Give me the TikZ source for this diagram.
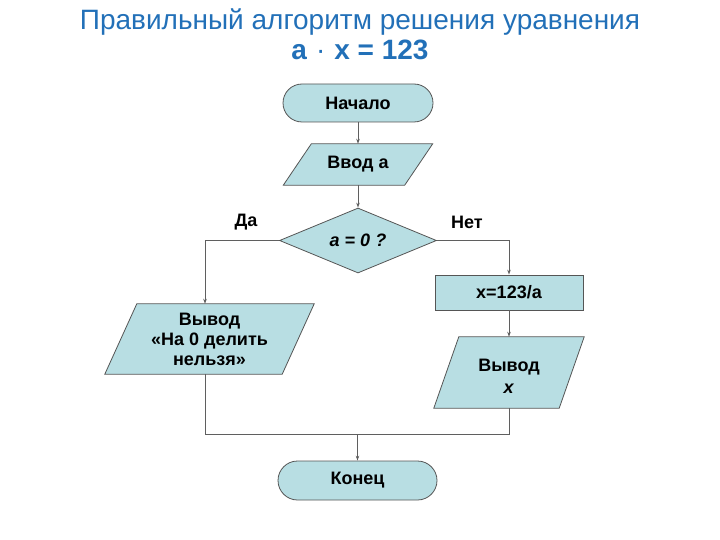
\documentclass[tikz,border=0pt]{standalone}
\usepackage{fontspec}
\setmainfont{Liberation Sans}
\usetikzlibrary{shapes.geometric,shapes.misc,arrows.meta,backgrounds}
\definecolor{titleblue}{RGB}{34,112,184}
\definecolor{boxfill}{RGB}{184,222,227}
\definecolor{boxline}{RGB}{85,85,85}
\definecolor{conline}{RGB}{95,95,95}
\tikzset{
  term/.style={rounded rectangle, draw=boxline, fill=boxfill, line width=0.8pt, inner sep=0pt, font=\bfseries\fontsize{18}{20}\selectfont},
  procbox/.style={rectangle, draw=boxline, fill=boxfill, line width=0.8pt, inner sep=0pt, font=\bfseries\fontsize{18}{20}\selectfont},
  decbox/.style={diamond, draw=boxline, fill=boxfill, line width=0.8pt, inner sep=0pt, aspect=2.4, font=\bfseries\itshape\fontsize{18}{20}\selectfont},
  iobox/.style={rectangle, draw=none, inner sep=0pt, align=center, font=\bfseries\fontsize{18}{20}\selectfont},
  iofill/.style={draw=boxline, fill=boxfill, line width=0.8pt, line join=miter},
  lbl/.style={font=\bfseries\fontsize{18}{20}\selectfont},
  conn/.style={draw=conline, line width=0.8pt},
  arr/.style={conn, -{Stealth[length=5pt,width=3.5pt]}},
}
\begin{document}
\begin{tikzpicture}[x=1pt,y=-1pt]
\useasboundingbox (0,0) rectangle (720,540);
% title
\node[anchor=base, text=titleblue, font=\fontsize{28}{30}\selectfont] (t1) at (360,30) {Правильный алгоритм решения уравнения};
\node[anchor=base, text=titleblue, font=\bfseries\fontsize{28}{30}\selectfont] (t2) at (360,60) {a\hspace{9pt}{\mdseries·}\hspace{9pt}x = 123};
% nodes
\node[term, minimum width=150pt, minimum height=38pt] (start) at (358,103) {Начало};
\node[iobox, minimum width=149pt, minimum height=41pt] (in) at (358,164.5) {Ввод а};
\node[decbox, minimum width=157pt, minimum height=65pt] (dec) at (358,240.5) {a = 0 ?};
\node[procbox, minimum width=148pt, minimum height=35pt] (calc) at (509,292.5) {x=123/a};
\node[iobox, minimum width=150pt, minimum height=71pt] (outx) at (509,372.5) {\rule{0pt}{19pt}Вывод\\[2pt]\textit{x}};
\node[iobox, minimum width=209pt, minimum height=70pt] (outerr) at (209.5,339) {Вывод\\«На 0 делить\\нельзя»};
\node[term, minimum width=159pt, minimum height=39pt] (end) at (357.5,480.5) {Конец};
\begin{scope}[on background layer]
\draw[iofill] ([xshift=28pt]in.north west) -- (in.north east) -- ([xshift=-28pt]in.south east) -- (in.south west) -- cycle;
\draw[iofill] ([xshift=25pt]outx.north west) -- (outx.north east) -- ([xshift=-25pt]outx.south east) -- (outx.south west) -- cycle;
\draw[iofill] ([xshift=32pt]outerr.north west) -- (outerr.north east) -- ([xshift=-32pt]outerr.south east) -- (outerr.south west) -- cycle;
\end{scope}
% labels
\node[lbl] (yes) at (246,222) {Да};
\node[lbl] (no) at (467,222) {Нет};
\coordinate (m) at (357.5,434);
% connectors
\draw[arr] (start.south) -- (in.north);
\draw[arr] (in.south) -- (dec.north);
\draw[arr] (dec.west) -| ([xshift=-4.5pt]outerr.north);
\draw[arr] (dec.east) -| (calc.north);
\draw[arr] (calc.south) -- (outx.north);
\draw[conn] ([xshift=-4.5pt]outerr.south) |- (m);
\draw[conn] (outx.south) |- (m);
\draw[arr] (m) -- (end.north);
\end{tikzpicture}
\end{document}
